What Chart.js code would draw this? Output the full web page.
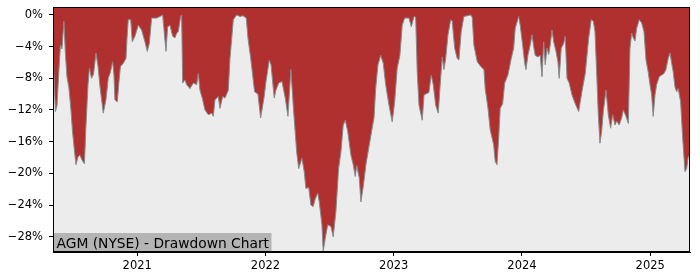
<!DOCTYPE html>
<html>
<head>
<meta charset="utf-8">
<script src="https://cdn.jsdelivr.net/npm/chart.js@4/dist/chart.umd.min.js"></script>
<style>
  html, body { margin: 0; padding: 0; background: #fff; }
  #wrap { width: 700px; height: 280px; position: relative; }
</style>
</head>
<body>
<div id="wrap"><canvas id="ddChart"></canvas></div>
<script>
// dates as decimal years
const dates = [
  2020.347, 2020.362, 2020.374, 2020.389, 2020.401, 2020.413, 2020.428, 2020.440, 2020.452, 2020.467,
  2020.483, 2020.495, 2020.506, 2020.522, 2020.538, 2020.553, 2020.569, 2020.588, 2020.600, 2020.616,
  2020.627, 2020.643, 2020.659, 2020.678, 2020.694, 2020.709, 2020.735, 2020.756, 2020.774, 2020.791,
  2020.808, 2020.818, 2020.826, 2020.844, 2020.857, 2020.869, 2020.891, 2020.912, 2020.920, 2020.930,
  2020.949, 2020.961, 2020.982, 2021.008, 2021.034, 2021.060, 2021.078, 2021.094, 2021.112, 2021.151,
  2021.177, 2021.198, 2021.216, 2021.224, 2021.237, 2021.255, 2021.276, 2021.294, 2021.307, 2021.320,
  2021.338, 2021.346, 2021.354, 2021.372, 2021.385, 2021.411, 2021.437, 2021.463, 2021.476, 2021.489,
  2021.510, 2021.528, 2021.554, 2021.580, 2021.593, 2021.606, 2021.632, 2021.645, 2021.666, 2021.684,
  2021.710, 2021.723, 2021.749, 2021.775, 2021.801, 2021.824, 2021.850, 2021.863, 2021.884, 2021.915,
  2021.941, 2021.962, 2021.988, 2022.004, 2022.029, 2022.043, 2022.068, 2022.081, 2022.103, 2022.128,
  2022.154, 2022.175, 2022.198, 2022.216, 2022.243, 2022.259, 2022.284, 2022.302, 2022.315, 2022.337,
  2022.354, 2022.372, 2022.388, 2022.407, 2022.419, 2022.440, 2022.450, 2022.466, 2022.485, 2022.510,
  2022.528, 2022.549, 2022.570, 2022.588, 2022.606, 2022.622, 2022.641, 2022.666, 2022.684, 2022.700,
  2022.711, 2022.731, 2022.744, 2022.762, 2022.783, 2022.809, 2022.836, 2022.846, 2022.859, 2022.877,
  2022.898, 2022.918, 2022.937, 2022.963, 2022.988, 2023.007, 2023.027, 2023.048, 2023.066, 2023.085,
  2023.119, 2023.137, 2023.158, 2023.171, 2023.183, 2023.197, 2023.222, 2023.236, 2023.261, 2023.274,
  2023.292, 2023.308, 2023.327, 2023.347, 2023.360, 2023.378, 2023.391, 2023.405, 2023.423, 2023.444,
  2023.456, 2023.475, 2023.495, 2023.508, 2023.526, 2023.547, 2023.600, 2023.612, 2023.625, 2023.651,
  2023.678, 2023.703, 2023.713, 2023.735, 2023.752, 2023.779, 2023.791, 2023.805, 2023.818, 2023.830,
  2023.849, 2023.865, 2023.890, 2023.916, 2023.935, 2023.947, 2023.974, 2023.986, 2024.005, 2024.021,
  2024.031, 2024.046, 2024.064, 2024.078, 2024.091, 2024.103, 2024.124, 2024.142, 2024.156, 2024.169,
  2024.181, 2024.195, 2024.208, 2024.220, 2024.234, 2024.247, 2024.265, 2024.280, 2024.290, 2024.306,
  2024.325, 2024.337, 2024.351, 2024.368, 2024.390, 2024.415, 2024.442, 2024.467, 2024.493, 2024.520,
  2024.540, 2024.556, 2024.569, 2024.582, 2024.595, 2024.608, 2024.621, 2024.634, 2024.655, 2024.673,
  2024.691, 2024.707, 2024.725, 2024.738, 2024.758, 2024.777, 2024.790, 2024.811, 2024.829, 2024.842,
  2024.855, 2024.868, 2024.881, 2024.894, 2024.914, 2024.933, 2024.951, 2024.967, 2024.984, 2024.998,
  2025.011, 2025.023, 2025.037, 2025.050, 2025.070, 2025.089, 2025.107, 2025.122, 2025.140, 2025.154,
  2025.167, 2025.179, 2025.193, 2025.206, 2025.218, 2025.237, 2025.253, 2025.271, 2025.284, 2025.296,
  2025.310
];

// drawdown in percent
const drawdown = [
  -6.3, -12.2, -11.5, -7.0, -3.8, -4.3, -0.8, -5.0, -7.8, -9.2,
  -12.0, -14.7, -16.5, -18.9, -17.9, -17.7, -18.3, -18.8, -14.0, -8.8,
  -6.7, -8.0, -7.5, -4.8, -6.5, -9.0, -12.4, -10.7, -8.0, -7.2,
  -5.9, -7.5, -10.7, -11.0, -8.5, -6.5, -6.1, -5.5, -3.0, -0.6,
  -0.6, -3.4, -2.7, -1.3, -1.9, -3.4, -4.6, -3.6, -0.4, -0.4,
  -0.2, 0, -3.2, -4.6, -1.5, -1.3, -2.7, -2.9, -2.3, -2.1,
  -0.2, 0, -8.6, -8.2, -8.8, -9.3, -8.6, -8.8, -7.4, -9.5,
  -10.7, -12.0, -12.6, -12.4, -12.8, -10.7, -10.3, -11.8, -10.3, -10.5,
  -9.5, -5.5, -0.6, 0, -0.2, -0.1, -0.4, -2.9, -5.4, -9.7,
  -10.0, -13.0, -10.5, -8.4, -5.7, -6.3, -10.5, -9.5, -8.6, -8.4,
  -10.5, -12.8, -6.9, -11.4, -17.3, -19.4, -18.1, -19.8, -21.9, -21.8,
  -24.0, -24.2, -23.2, -22.5, -23.6, -26.5, -29.8, -28.2, -26.5, -26.7,
  -28.0, -24.8, -19.4, -17.3, -13.9, -13.3, -14.7, -17.7, -18.9, -20.4,
  -19.0, -20.6, -23.6, -21.7, -18.9, -16.4, -13.9, -13.0, -9.3, -6.3,
  -5.1, -6.1, -8.8, -11.4, -13.5, -11.0, -6.7, -5.1, -1.3, -0.4,
  -0.4, -1.5, -0.2, -0.3, -7.2, -11.4, -13.3, -10.1, -9.9, -9.8,
  -7.6, -8.8, -11.4, -12.4, -9.3, -5.3, -6.9, -5.5, -2.5, -0.6,
  -0.8, -4.2, -5.5, -5.7, -2.1, -0.2, 0, -0.3, -3.8, -5.9,
  -6.5, -6.9, -9.3, -11.8, -14.5, -16.4, -18.5, -18.9, -15.6, -11.8,
  -11.2, -8.6, -7.6, -5.5, -4.2, -1.7, -0.2, -1.3, -3.8, -6.1,
  -6.9, -5.1, -3.8, -2.5, -4.0, -5.1, -5.3, -5.1, -7.8, -3.4,
  -6.3, -4.2, -5.0, -3.8, -1.9, -3.4, -4.6, -5.9, -8.0, -4.2,
  -3.6, -2.7, -8.0, -8.6, -10.1, -11.2, -12.2, -9.7, -7.4, -2.9,
  -0.6, -0.8, -2.1, -7.2, -12.6, -16.2, -14.7, -12.2, -9.5, -12.6,
  -14.3, -12.6, -13.9, -13.4, -13.9, -13.0, -12.0, -12.8, -13.7, -4.2,
  -2.3, -2.9, -3.3, -1.7, -0.6, -1.0, -2.1, -5.7, -7.2, -8.8,
  -10.1, -12.8, -10.1, -8.8, -7.8, -7.6, -7.4, -6.9, -5.5, -4.8,
  -6.1, -7.2, -9.1, -9.7, -9.3, -11.0, -15.6, -19.8, -19.4, -17.9,
  -17.7
];

const yearTicks = [2021, 2022, 2023, 2024, 2025];
const pctTicks = [0, -4, -8, -12, -16, -20, -24, -28];
const chartLabel = 'AGM (NYSE) - Drawdown Chart';

Chart.defaults.font.family = "'DejaVu Sans', sans-serif";
Chart.defaults.font.size = 11.5;
Chart.defaults.color = '#000';

// grey plot background, label box and black frame
const framePlugin = {
  id: 'frame',
  beforeDraw(chart) {
    const { ctx, chartArea: a } = chart;
    ctx.save();
    ctx.fillStyle = '#ececec';
    ctx.fillRect(a.left, a.top, a.right - a.left, a.bottom - a.top);
    ctx.restore();
  },
  afterDraw(chart) {
    const { ctx, chartArea: a } = chart;
    ctx.save();
    ctx.font = "13.8px 'DejaVu Sans'";
    const w = ctx.measureText(chartLabel).width;
    ctx.fillStyle = '#b4b4b4';
    ctx.fillRect(a.left, a.bottom - 19, w + 6, 19);
    ctx.fillStyle = '#000';
    ctx.textBaseline = 'alphabetic';
    ctx.fillText(chartLabel, a.left + 3.5, a.bottom - 4.5);
    ctx.strokeStyle = '#000';
    ctx.lineWidth = 1;
    ctx.strokeRect(Math.round(a.left) + 0.5, Math.round(a.top) + 0.5,
      Math.round(a.right - a.left) - 1, Math.round(a.bottom - a.top) - 1);
    ctx.restore();
  }
};

const points = dates.map((d, i) => ({ x: d, y: drawdown[i] }));

new Chart(document.getElementById('ddChart'), {
  type: 'line',
  data: {
    datasets: [{
      label: 'Drawdown',
      data: points,
      borderColor: '#8a8a8a',
      borderWidth: 1,
      backgroundColor: '#b03030',
      fill: 'end',
      pointRadius: 0,
      tension: 0
    }]
  },
  options: {
    responsive: true,
    maintainAspectRatio: false,
    animation: false,
    layout: { padding: { top: 7, right: 10, left: 0, bottom: 0 } },
    plugins: {
      legend: { display: false },
      tooltip: { enabled: false }
    },
    scales: {
      x: {
        type: 'linear',
        min: 2020.343,
        max: 2025.31,
        afterBuildTicks: (scale) => { scale.ticks = yearTicks.map(v => ({ value: v })); },
        afterFit: (scale) => { scale.height = 28; scale.paddingLeft = 0; scale.paddingRight = 0; },
        ticks: {
          maxRotation: 0,
          padding: 3,
          callback: (v) => String(v)
        },
        grid: { drawOnChartArea: false, drawTicks: true, tickLength: 4, color: '#000' },
        border: { display: true, color: '#000' }
      },
      y: {
        min: -29.93,
        max: 1.0,
        afterBuildTicks: (scale) => { scale.ticks = pctTicks.map(v => ({ value: v })); },
        afterFit: (scale) => { scale.width = 53; scale.paddingTop = 0; scale.paddingBottom = 0; },
        ticks: {
          padding: 6,
          callback: (v) => (v < 0 ? '\u2212' + Math.abs(v) : v) + '%'
        },
        grid: { drawOnChartArea: false, drawTicks: true, tickLength: 4, color: '#000' },
        border: { display: true, color: '#000' }
      }
    }
  },
  plugins: [framePlugin]
});
</script>
</body>
</html>
